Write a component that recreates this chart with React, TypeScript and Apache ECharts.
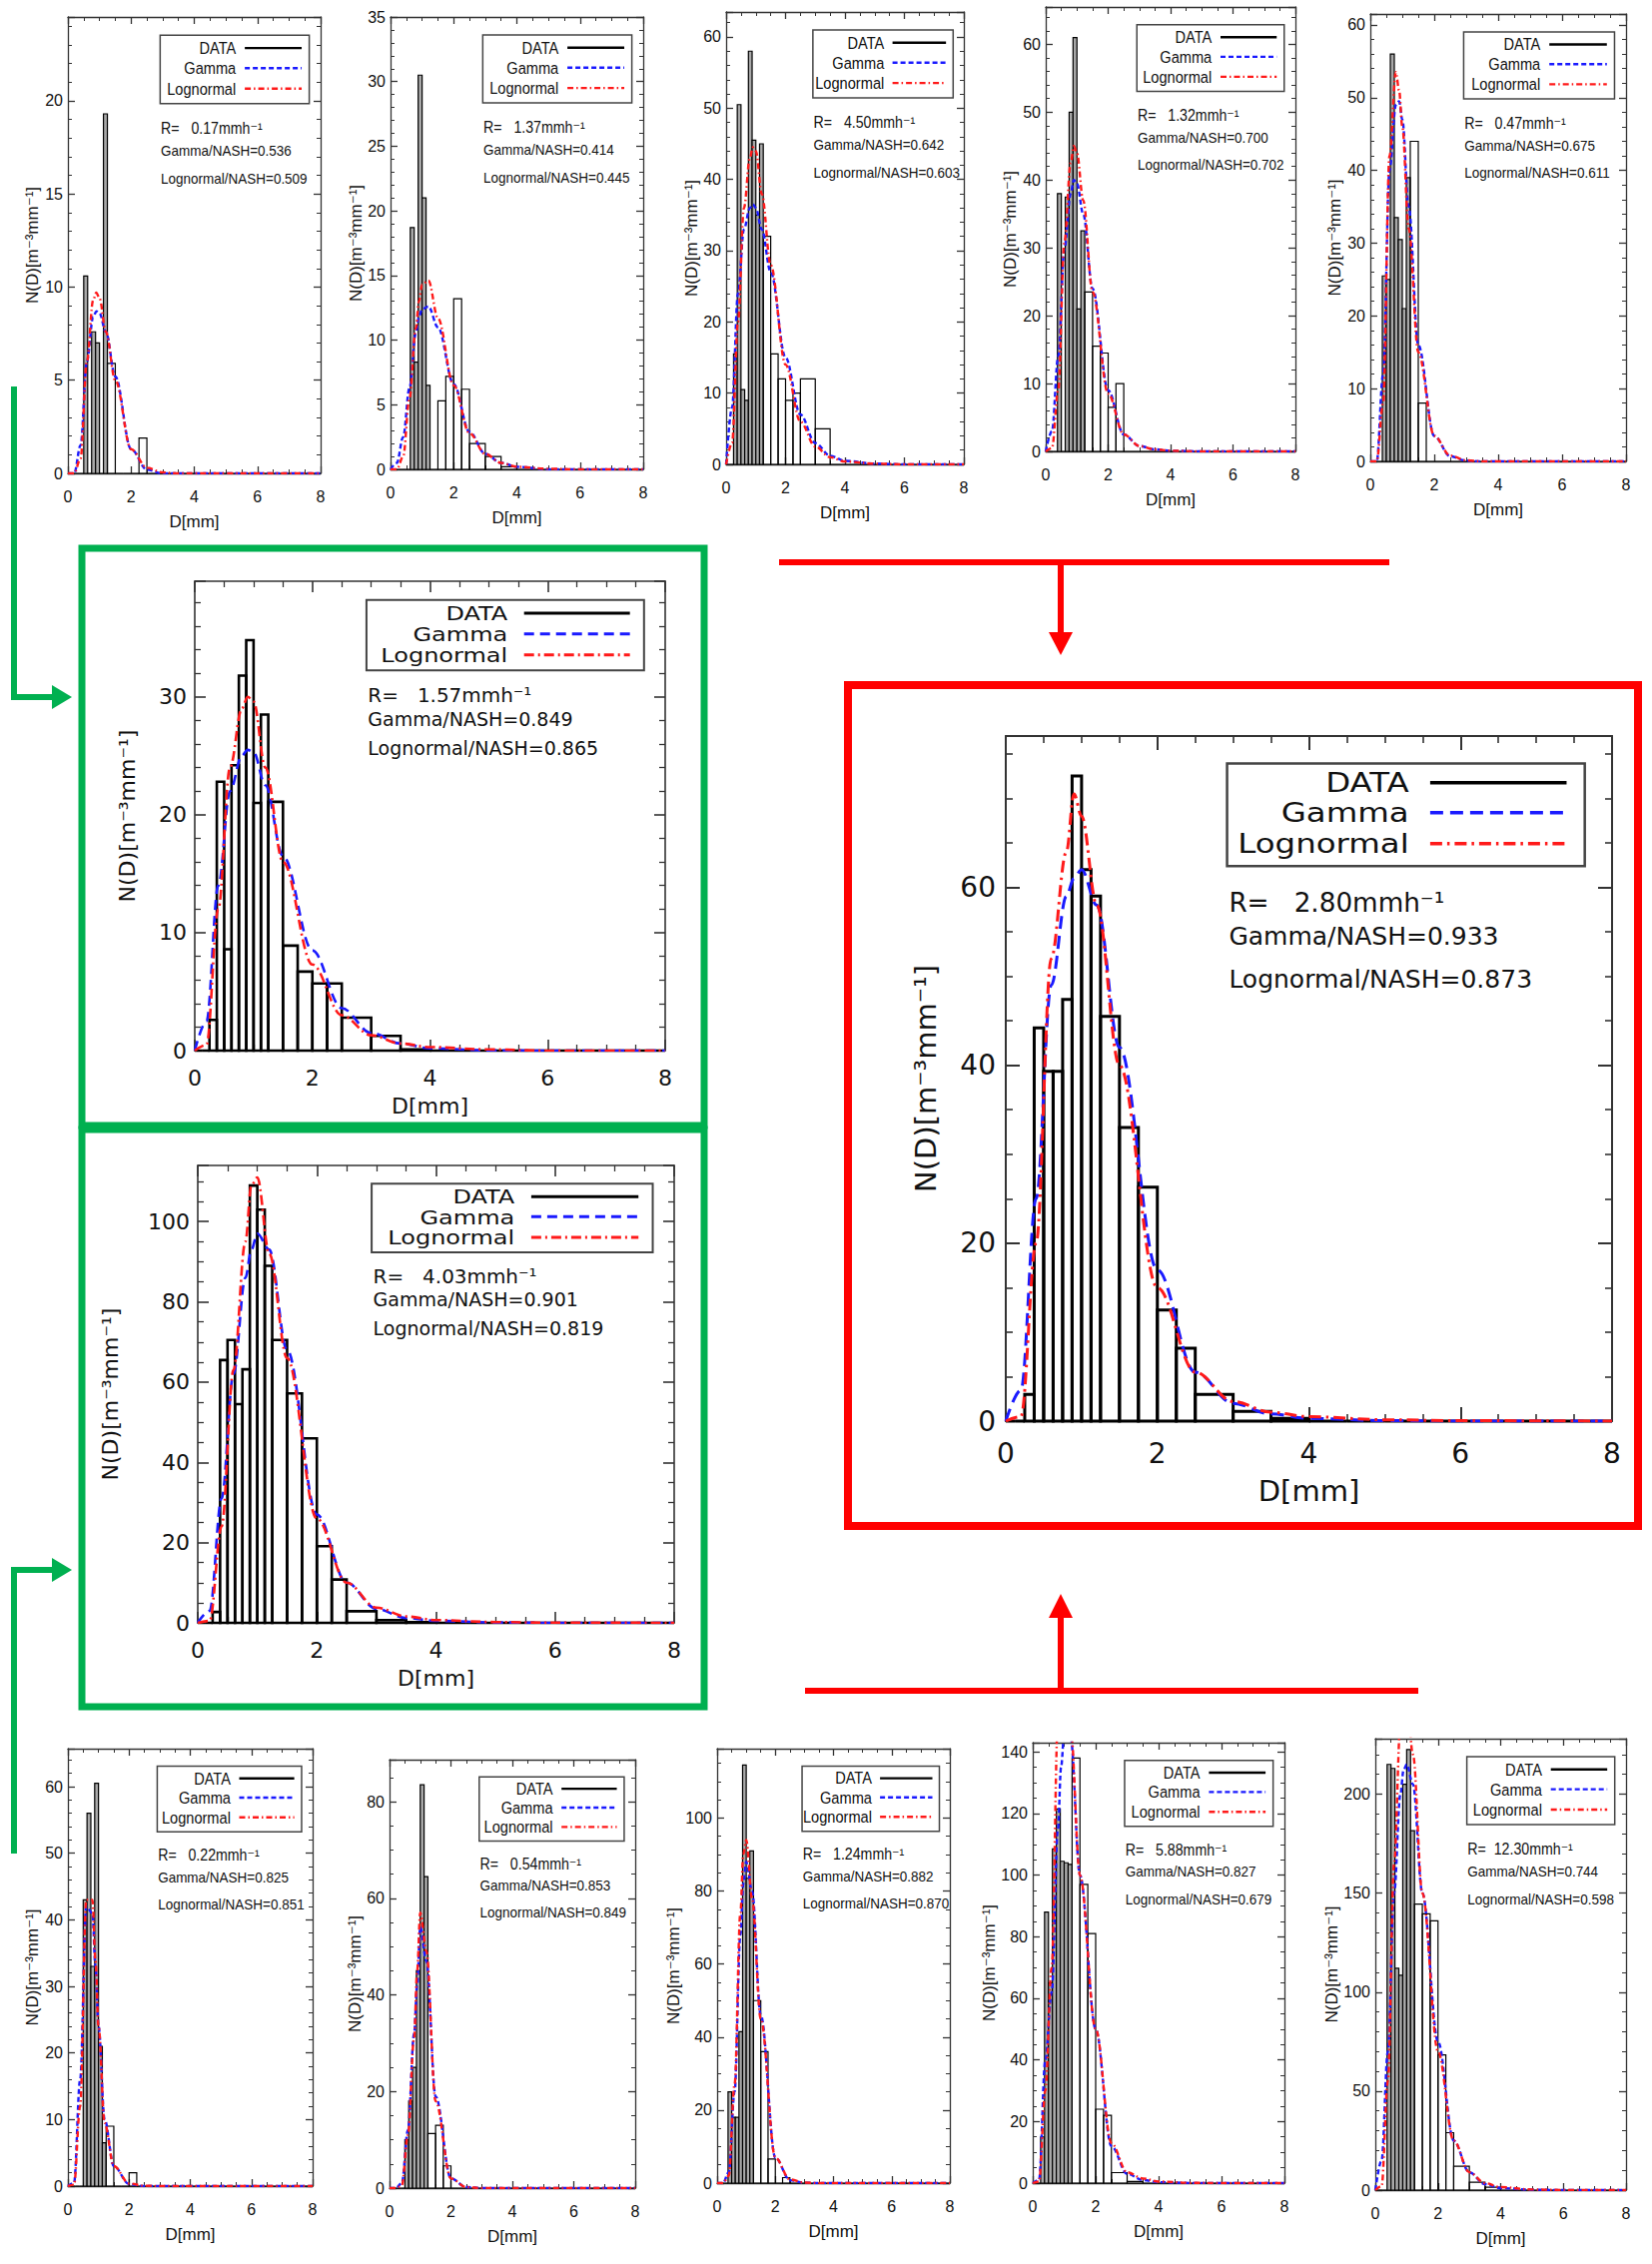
import React, { useEffect, useRef } from "react";
import * as echarts from "echarts";

// ---------- drop-size bins (mm) and fit grid ----------
const BIN_LO = [0, 0.125, 0.25, 0.375, 0.5, 0.625, 0.75, 0.875, 1.0, 1.125, 1.25, 1.5, 1.75, 2.0, 2.25, 2.5, 3.0, 3.5, 4.0, 4.5, 5.0, 6.0, 7.0];
const BIN_HI = [0.125, 0.25, 0.375, 0.5, 0.625, 0.75, 0.875, 1.0, 1.125, 1.25, 1.5, 1.75, 2.0, 2.25, 2.5, 3.0, 3.5, 4.0, 4.5, 5.0, 6.0, 7.0, 8.0];
const FIT_D = [0, 0.2, 0.4, 0.6, 0.8, 0.9, 1.0, 1.2, 1.5, 2.0, 2.5, 3.0, 3.5, 4.0, 5.0, 6.0, 8.0];
const X_TICKS = [0, 2, 4, 6, 8];

// ---------- top row ----------
const P1_BINS = [0, 0, 0, 0, 10.6, 0, 7.6, 7.0, 0, 19.3, 5.9, 0, 0, 0, 1.9, 0, 0, 0, 0, 0, 0, 0, 0];
const P1_GAMMA = [0, 0, 1.5, 6, 8.4, 8.7, 8.6, 7.6, 5.2, 1.3, 0.2, 0, 0, 0, 0, 0, 0];
const P1_LOGN = [0, 0, 0.8, 6, 9.3, 9.7, 9.4, 7.6, 5.0, 1.3, 0.3, 0.05, 0, 0, 0, 0, 0];
const P1_STATS = ["0.17", "0.536", "0.509"];

const P2_BINS = [0, 0, 0, 0, 0, 18.7, 8.3, 30.5, 21, 6.5, 0, 5.3, 7.2, 13.2, 6.2, 2, 1, 0.2, 0, 0, 0, 0, 0];
const P2_GAMMA = [0, 0.5, 2.5, 6.3, 10.5, 11.8, 12.4, 12.6, 11, 6.6, 2.9, 1.2, 0.5, 0.2, 0, 0, 0];
const P2_LOGN = [0, 0, 1, 5.5, 10.9, 13, 14.3, 14.6, 11.7, 6.5, 2.8, 1.2, 0.5, 0.2, 0.05, 0, 0];
const P2_STATS = ["1.37", "0.414", "0.445"];

const P3_BINS = [0, 0, 15.5, 50.5, 10.5, 9, 58, 45.5, 35, 45, 32, 15.5, 12, 9, 10, 12, 5, 0, 0, 0, 0, 0, 0];
const P3_GAMMA = [0, 8, 24, 33, 36, 36.5, 36, 33, 27, 15, 7, 3, 1.2, 0.5, 0.1, 0, 0];
const P3_LOGN = [0, 3, 20, 36, 43, 44.5, 44, 38, 28, 14, 6, 2.5, 1, 0.4, 0.1, 0, 0];
const P3_STATS = ["4.50", "0.642", "0.603"];

const P4_BINS = [0, 0, 0, 38, 0, 37.5, 50, 61, 21, 32.5, 23.5, 15.5, 14.5, 6.5, 10, 0, 0, 0, 0, 0, 0, 0, 0];
const P4_GAMMA = [0, 3, 14, 30, 38, 40, 39.5, 35, 24, 9, 2.5, 0.8, 0.3, 0.1, 0, 0, 0];
const P4_LOGN = [0, 0.5, 9, 31, 42.5, 45, 44, 37, 23.5, 8.5, 2.5, 0.8, 0.3, 0.1, 0, 0, 0];
const P4_STATS = ["1.32", "0.700", "0.702"];

const P5_BINS = [0, 0, 0, 25.5, 25, 56, 33.5, 30.5, 21, 39, 44, 8, 0, 0, 0, 0, 0, 0, 0, 0, 0, 0, 0];
const P5_GAMMA = [0, 0, 12, 40, 49, 49.5, 47, 35, 16, 3.5, 0.7, 0.1, 0, 0, 0, 0, 0];
const P5_LOGN = [0, 0, 8, 42, 53.5, 51, 46, 32, 15, 3.5, 0.8, 0.15, 0, 0, 0, 0, 0];
const P5_STATS = ["0.47", "0.675", "0.611"];

// ---------- highlighted panels ----------
const G1_BINS = [0, 0, 2.6, 22.8, 8.6, 24.2, 31.8, 34.8, 21, 28.5, 21.1, 8.9, 6.7, 5.7, 5.7, 2.8, 1.25, 0.1, 0, 0, 0, 0, 0];
const G1_GAMMA = [0, 2.5, 14, 22, 25, 25.5, 25.3, 22.5, 16.5, 8.5, 3.6, 1.5, 0.6, 0.2, 0.02, 0, 0];
const G1_LOGN = [0, 0.5, 12, 24, 29, 30, 29.6, 24, 16, 7.3, 3.0, 1.3, 0.6, 0.3, 0.1, 0, 0];
const G1_STATS = ["1.57", "0.849", "0.865"];

const G2_BINS = [0, 0, 2.7, 65.5, 70.5, 54.5, 63.2, 109, 103, 89, 70.5, 57.2, 46, 19.1, 10.8, 2.9, 0.7, 0.2, 0, 0, 0, 0, 0];
const G2_GAMMA = [0, 3, 31, 62, 86, 93, 97, 93, 68, 27, 10, 3.5, 1.2, 0.5, 0.1, 0, 0];
const G2_LOGN = [0, 0.5, 24, 63, 95, 109, 111, 92, 66, 26, 10, 3.8, 1.6, 0.7, 0.2, 0.05, 0];
const G2_STATS = ["4.03", "0.901", "0.819"];

const R_BINS = [0, 0, 3, 44.2, 39.3, 39.3, 47.4, 72.5, 62, 59, 45.5, 33, 26.3, 12.5, 8.2, 3, 1.1, 0.3, 0, 0, 0, 0, 0];
const R_GAMMA = [0, 3.5, 25, 49, 59, 61, 62, 58, 42, 17, 5.5, 2, 0.8, 0.3, 0.05, 0, 0];
const R_LOGN = [0, 0.5, 20, 52, 64, 70.5, 68, 58, 40, 15, 5.5, 2.2, 1, 0.5, 0.15, 0.05, 0];
const R_STATS = ["2.80", "0.933", "0.873"];

// ---------- bottom row ----------
const B1_BINS = [0, 0, 0, 0, 43, 56, 33, 60.5, 21, 6.5, 9, 0, 0, 2, 0, 0, 0, 0, 0, 0, 0, 0, 0];
const B1_GAMMA = [0, 0.5, 16, 42, 41, 33, 24, 10, 3, 0.3, 0, 0, 0, 0, 0, 0, 0];
const B1_LOGN = [0, 0.2, 12, 43, 43, 34, 24, 9.5, 3, 0.4, 0.05, 0, 0, 0, 0, 0, 0];
const B1_STATS = ["0.22", "0.825", "0.851"];

const B2_BINS = [0, 0, 0, 0, 10, 18, 25, 45, 83.5, 64.5, 11.3, 13, 4.6, 0, 0, 0, 0, 0, 0, 0, 0, 0, 0];
const B2_GAMMA = [0, 0, 1, 12, 32, 42, 54, 47, 19, 2, 0.2, 0, 0, 0, 0, 0, 0];
const B2_LOGN = [0, 0, 0.5, 11, 31, 45, 57, 49, 18, 2, 0.2, 0, 0, 0, 0, 0, 0];
const B2_STATS = ["0.54", "0.853", "0.849"];

const B3_BINS = [0, 0, 0, 25, 18, 18, 41.5, 114.5, 83.5, 91, 50, 36, 6.6, 0, 1.5, 0, 0, 0, 0, 0, 0, 0, 0];
const B3_GAMMA = [0, 0, 3, 25, 68, 82, 88, 80, 46, 7, 0.8, 0.1, 0, 0, 0, 0, 0];
const B3_LOGN = [0, 0, 2, 27, 74, 90, 94, 78, 45, 7, 1, 0.15, 0, 0, 0, 0, 0];
const B3_STATS = ["1.24", "0.882", "0.870"];

const B4_BINS = [0, 0, 15, 88, 65, 108.5, 121.5, 104.5, 104, 103.5, 138, 97, 81, 24, 22, 3.4, 0.5, 0, 0, 0, 0, 0, 0];
const B4_GAMMA = [0, 1, 40, 62, 115, 135, 146, 145, 100, 50, 12, 3, 1, 0.3, 0.05, 0, 0];
const B4_LOGN = [0, 0.5, 30, 70, 150, 165, 165, 148, 100, 50, 13, 3.5, 1.5, 0.5, 0.1, 0, 0];
const B4_STATS = ["5.88", "0.827", "0.679"];

const B5_BINS = [0, 0, 0, 215, 213, 112, 108.5, 205, 222.5, 181.5, 144.5, 139.5, 136, 68.3, 29, 12, 4, 1.5, 0, 0, 0, 0, 0];
const B5_GAMMA = [0, 15, 70, 150, 200, 212, 215, 205, 150, 75, 25, 9, 3, 1, 0.2, 0, 0];
const B5_LOGN = [0, 2, 55, 165, 235, 250, 250, 220, 150, 70, 25, 9, 3.5, 1.5, 0.3, 0.05, 0];
const B5_STATS = ["12.30", "0.744", "0.598"];

const LEGEND_NAMES = ["DATA", "Gamma", "Lognormal"];
const X_NAME = "D[mm]";
const Y_NAME = "N(D)[m\u207B\u00B3mm\u207B\u00B9]";

// ---------- layout (page pixels) ----------
const W = 1654;
const H = 2267;
const GREEN = "#00b050";
const REDC = "#ff0000";
const FRAME = "#333333";
const TEXT = "#111111";
const BLUE = "#1a1aff";
const RED = "#ff1a1a";

const SANS_SMALL = "'Liberation Sans', 'DejaVu Sans', sans-serif";
const SANS_BIG = "'DejaVu Sans', sans-serif";

const STYLES: any = {
  small: { family: SANS_SMALL, tick: 16, xname: 17, yname: 17, legend: 17, legendSX: 0.86, ann: 15, annSX: 0.9, bar: 1.2, narrowFill: "#a9a9a9", curve: 2.4, dash: [5, 3], dashDot: [6, 3, 1.5, 3], frame: 1.3, tickLen: 7, minorLen: 4, xMargin: 15, yMargin: 5, xNameGap: 40, legendLine: 2.4, legendBox: 1.5 },
  green: { family: SANS_BIG, tick: 22, xname: 22, yname: 22, legend: 20, legendSX: 1.2, ann: 19, annSX: 1, bar: 2.6, narrowFill: "rgba(255,255,255,0)", curve: 2.6, dash: [10, 6], dashDot: [10, 4, 2, 4], frame: 1.6, tickLen: 11, minorLen: 6, xMargin: 16, yMargin: 8, xNameGap: 44, legendLine: 3, legendBox: 2 },
  red: { family: SANS_BIG, tick: 28, xname: 29, yname: 29, legend: 27, legendSX: 1.2, ann: 25, annSX: 1, bar: 3, narrowFill: "rgba(255,255,255,0)", curve: 3, dash: [13, 7], dashDot: [12, 5, 2.5, 5], frame: 2, tickLen: 14, minorLen: 7, xMargin: 18, yMargin: 10, xNameGap: 55, legendLine: 3.5, legendBox: 2.5 },
};

const PANELS = [
  { kind: "small", box: [68, 17, 321, 474], ymax: 24.5, yint: 5, ysplit: 5, yGap: 27, bins: P1_BINS, gamma: P1_GAMMA, logn: P1_LOGN, stats: P1_STATS },
  { kind: "small", box: [391, 17, 644, 470], ymax: 35, yint: 5, ysplit: 5, yGap: 26, bins: P2_BINS, gamma: P2_GAMMA, logn: P2_LOGN, stats: P2_STATS },
  { kind: "small", box: [727, 12, 965, 465], ymax: 63.5, yint: 10, ysplit: 5, yGap: 26, bins: P3_BINS, gamma: P3_GAMMA, logn: P3_LOGN, stats: P3_STATS },
  { kind: "small", box: [1047, 7, 1297, 452], ymax: 65.5, yint: 10, ysplit: 5, yGap: 27, bins: P4_BINS, gamma: P4_GAMMA, logn: P4_LOGN, stats: P4_STATS },
  { kind: "small", box: [1372, 14, 1628, 462], ymax: 61.5, yint: 10, ysplit: 5, yGap: 27, bins: P5_BINS, gamma: P5_GAMMA, logn: P5_LOGN, stats: P5_STATS },
  { kind: "green", box: [195, 582, 666, 1052], ymax: 39.8, yint: 10, ysplit: 5, yGap: 57, bins: G1_BINS, gamma: G1_GAMMA, logn: G1_LOGN, stats: G1_STATS },
  { kind: "green", box: [198, 1167, 675, 1625], ymax: 114, yint: 20, ysplit: 4, yGap: 77, bins: G2_BINS, gamma: G2_GAMMA, logn: G2_LOGN, stats: G2_STATS },
  { kind: "red", box: [1007, 737, 1614, 1423], ymax: 77, yint: 20, ysplit: 4, yGap: 66, bins: R_BINS, gamma: R_GAMMA, logn: R_LOGN, stats: R_STATS },
  { kind: "small", box: [68, 1751, 313, 2189], ymax: 65.7, yint: 10, ysplit: 5, yGap: 27, bins: B1_BINS, gamma: B1_GAMMA, logn: B1_LOGN, stats: B1_STATS },
  { kind: "small", box: [390, 1762, 636, 2191], ymax: 88.7, yint: 20, ysplit: 4, yGap: 26, bins: B2_BINS, gamma: B2_GAMMA, logn: B2_LOGN, stats: B2_STATS },
  { kind: "small", box: [718, 1751, 951, 2186], ymax: 119, yint: 20, ysplit: 4, yGap: 35, bins: B3_BINS, gamma: B3_GAMMA, logn: B3_LOGN, stats: B3_STATS },
  { kind: "small", box: [1034, 1745, 1286, 2186], ymax: 143, yint: 20, ysplit: 4, yGap: 35, bins: B4_BINS, gamma: B4_GAMMA, logn: B4_LOGN, stats: B4_STATS },
  { kind: "small", box: [1377, 1741, 1628, 2193], ymax: 228, yint: 50, ysplit: 5, yGap: 35, bins: B5_BINS, gamma: B5_GAMMA, logn: B5_LOGN, stats: B5_STATS },
];

function textEl(x: number, y: number, text: string, size: number, family: string, align: string, sx: number) {
  return {
    type: "text",
    x,
    y,
    scaleX: sx,
    z: 100,
    silent: true,
    style: {
      text,
      font: `${size}px ${family}`,
      fill: TEXT,
      align,
      verticalAlign: "middle",
      textAlign: align,
      textVerticalAlign: "middle",
    },
  };
}

function buildOption() {
  const grid: any[] = [];
  const xAxis: any[] = [];
  const yAxis: any[] = [];
  const series: any[] = [];
  const graphic: any[] = [];

  PANELS.forEach((p, i) => {
    const s = STYLES[p.kind];
    const [l, t, r, b] = p.box;
    const w = r - l;
    const h = b - t;
    grid.push({ left: l, top: t, width: w, height: h, show: false, containLabel: false, outerBoundsMode: "none" });

    const line = { show: true, onZero: false, lineStyle: { color: FRAME, width: s.frame } };
    const tick = { show: true, inside: true, length: s.tickLen, lineStyle: { color: FRAME, width: s.frame } };
    const minor = (n: number) => ({ show: true, splitNumber: n, length: s.minorLen, lineStyle: { color: FRAME, width: s.frame * 0.8 } });
    const lbl = { fontFamily: s.family, fontSize: s.tick, color: TEXT };
    const nameStyle = (size: number) => ({ fontFamily: s.family, fontSize: size, color: TEXT });

    xAxis.push({
      gridIndex: i, type: "value", position: "bottom", min: X_TICKS[0], max: X_TICKS[X_TICKS.length - 1], interval: X_TICKS[1] - X_TICKS[0],
      axisLine: line, axisTick: tick, minorTick: minor(4), splitLine: { show: false }, minorSplitLine: { show: false },
      axisLabel: { ...lbl, margin: s.xMargin },
      name: X_NAME, nameLocation: "middle", nameGap: s.xNameGap, nameTextStyle: nameStyle(s.xname), nameMoveOverlap: false,
    });
    xAxis.push({
      gridIndex: i, type: "value", position: "top", min: X_TICKS[0], max: X_TICKS[X_TICKS.length - 1], interval: X_TICKS[1] - X_TICKS[0],
      axisLine: line, axisTick: tick, minorTick: minor(4), splitLine: { show: false }, axisLabel: { show: false },
    });
    const yint = p.yint;
    yAxis.push({
      gridIndex: i, type: "value", position: "left", min: 0, max: p.ymax, interval: yint,
      axisLine: line, axisTick: tick, minorTick: minor(p.ysplit), splitLine: { show: false }, minorSplitLine: { show: false },
      axisLabel: {
        ...lbl, margin: s.yMargin, showMaxLabel: p.ymax % yint === 0,
        formatter: (v: number) => (Math.abs(v / yint - Math.round(v / yint)) < 1e-6 ? String(Math.round(v)) : ""),
      },
      name: Y_NAME, nameLocation: "middle", nameRotate: 90, nameGap: p.yGap, nameTextStyle: nameStyle(s.yname), nameMoveOverlap: false,
    });
    yAxis.push({
      gridIndex: i, type: "value", position: "right", min: 0, max: p.ymax, interval: yint,
      axisLine: line, axisTick: tick, minorTick: minor(p.ysplit), splitLine: { show: false }, axisLabel: { show: false },
    });

    const xi = 2 * i;
    const barW = s.bar;
    const narrowFill = s.narrowFill;
    series.push({
      type: "custom",
      name: LEGEND_NAMES[0],
      xAxisIndex: xi,
      yAxisIndex: xi,
      silent: true,
      z: 2,
      encode: { x: [0, 1], y: 2 },
      data: BIN_LO.map((lo, k) => [lo, BIN_HI[k], p.bins[k]]),
      renderItem: (_params: any, api: any) => {
        const lo = api.value(0);
        const hi = api.value(1);
        const a = api.coord([lo, 0]);
        const c = api.coord([hi, api.value(2)]);
        return {
          type: "rect",
          shape: { x: a[0], y: c[1], width: c[0] - a[0], height: a[1] - c[1] },
          style: { fill: hi - lo < 0.2 ? narrowFill : "rgba(255,255,255,0)", stroke: "#000", lineWidth: barW },
        };
      },
    });
    series.push({
      type: "line", name: LEGEND_NAMES[1], xAxisIndex: xi, yAxisIndex: xi, z: 4, silent: true,
      data: FIT_D.map((d, k) => [d, p.gamma[k]]), symbol: "none", showSymbol: false, smooth: 0.35, smoothMonotone: "x",
      lineStyle: { color: BLUE, width: s.curve, type: s.dash },
    });
    series.push({
      type: "line", name: LEGEND_NAMES[2], xAxisIndex: xi, yAxisIndex: xi, z: 5, silent: true,
      data: FIT_D.map((d, k) => [d, p.logn[k]]), symbol: "none", showSymbol: false, smooth: 0.35, smoothMonotone: "x",
      lineStyle: { color: RED, width: s.curve, type: s.dashDot },
    });

    // legend box
    const lx0 = l + 0.365 * w, lx1 = l + 0.955 * w, ly0 = t + 0.04 * h, ly1 = t + 0.19 * h;
    graphic.push({ type: "rect", z: 100, silent: true, shape: { x: lx0, y: ly0, width: lx1 - lx0, height: ly1 - ly0 }, style: { fill: "rgba(255,255,255,0)", stroke: "#444", lineWidth: s.legendBox } });
    const rows = [0.068, 0.112, 0.157].map((f) => t + f * h);
    const tx = l + 0.665 * w;
    const sx0 = l + 0.70 * w, sx1 = l + 0.925 * w;
    const samples = [
      { stroke: "#000", dash: null },
      { stroke: BLUE, dash: s.dash },
      { stroke: RED, dash: s.dashDot },
    ];
    LEGEND_NAMES.forEach((nm, k) => {
      graphic.push(textEl(tx, rows[k], nm, s.legend, s.family, "right", s.legendSX));
      graphic.push({
        type: "line", z: 100, silent: true,
        shape: { x1: sx0, y1: rows[k], x2: sx1, y2: rows[k] },
        style: { stroke: samples[k].stroke, lineWidth: s.legendLine, lineDash: samples[k].dash },
      });
    });
    // statistics text
    const ax = l + 0.368 * w;
    const arows = [0.243, 0.293, 0.355].map((f) => t + f * h);
    const rv = p.stats[0];
    const rtxt = "R=" + (rv.length > 4 ? "  " : "   ") + rv + "mmh\u207B\u00B9";
    graphic.push(textEl(ax, arows[0], rtxt, s.ann * 1.05, s.family, "left", s.annSX));
    graphic.push(textEl(ax, arows[1], "Gamma/NASH=" + p.stats[1], s.ann, s.family, "left", s.annSX));
    graphic.push(textEl(ax, arows[2], "Lognormal/NASH=" + p.stats[2], s.ann, s.family, "left", s.annSX));
  });

  // highlight frames
  graphic.push({ type: "rect", z: 90, silent: true, shape: { x: 82, y: 549, width: 623, height: 578 }, style: { fill: "rgba(0,0,0,0)", stroke: GREEN, lineWidth: 7 } });
  graphic.push({ type: "rect", z: 90, silent: true, shape: { x: 82, y: 1131, width: 623, height: 578 }, style: { fill: "rgba(0,0,0,0)", stroke: GREEN, lineWidth: 7 } });
  graphic.push({ type: "rect", z: 90, silent: true, shape: { x: 849, y: 686, width: 791, height: 842 }, style: { fill: "rgba(0,0,0,0)", stroke: REDC, lineWidth: 8 } });

  // green arrows
  graphic.push({ type: "polyline", z: 90, silent: true, shape: { points: [[14, 387], [14, 698], [56, 698]] }, style: { stroke: GREEN, lineWidth: 6, fill: "none" } });
  graphic.push({ type: "polygon", z: 90, silent: true, shape: { points: [[52, 686], [72, 698], [52, 710]] }, style: { fill: GREEN } });
  graphic.push({ type: "polyline", z: 90, silent: true, shape: { points: [[14, 1856], [14, 1572], [56, 1572]] }, style: { stroke: GREEN, lineWidth: 6, fill: "none" } });
  graphic.push({ type: "polygon", z: 90, silent: true, shape: { points: [[52, 1560], [72, 1572], [52, 1584]] }, style: { fill: GREEN } });

  // red arrows
  graphic.push({ type: "line", z: 90, silent: true, shape: { x1: 780, y1: 563, x2: 1391, y2: 563 }, style: { stroke: REDC, lineWidth: 6 } });
  graphic.push({ type: "line", z: 90, silent: true, shape: { x1: 1062, y1: 563, x2: 1062, y2: 636 }, style: { stroke: REDC, lineWidth: 6 } });
  graphic.push({ type: "polygon", z: 90, silent: true, shape: { points: [[1050, 633], [1074, 633], [1062, 656]] }, style: { fill: REDC } });
  graphic.push({ type: "line", z: 90, silent: true, shape: { x1: 806, y1: 1693, x2: 1420, y2: 1693 }, style: { stroke: REDC, lineWidth: 6 } });
  graphic.push({ type: "line", z: 90, silent: true, shape: { x1: 1062, y1: 1693, x2: 1062, y2: 1618 }, style: { stroke: REDC, lineWidth: 6 } });
  graphic.push({ type: "polygon", z: 90, silent: true, shape: { points: [[1050, 1620], [1074, 1620], [1062, 1596]] }, style: { fill: REDC } });

  return {
    animation: false,
    backgroundColor: "#ffffff",
    grid,
    xAxis,
    yAxis,
    series,
    graphic: { elements: graphic },
  };
}

export default function App() {
  const ref = useRef<HTMLDivElement | null>(null);
  useEffect(() => {
    if (!ref.current) return;
    const chart = echarts.init(ref.current, null, { renderer: "svg", width: W, height: H });
    chart.setOption(buildOption() as any);
    return () => chart.dispose();
  }, []);
  return (
    <div
      ref={ref}
      style={{ position: "absolute", left: 0, top: 0, width: W, height: H, background: "#fff" }}
    />
  );
}
